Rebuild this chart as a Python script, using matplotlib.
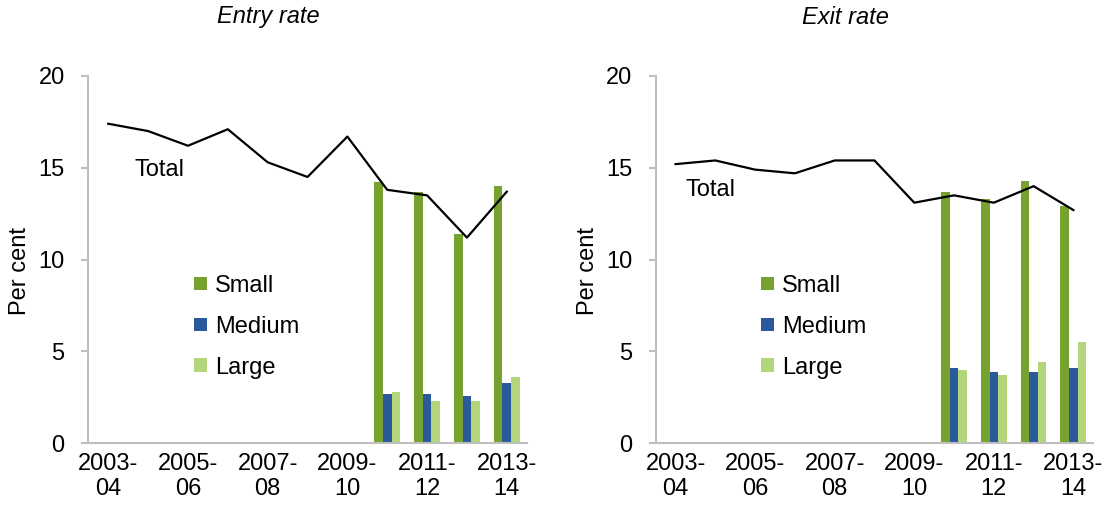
import numpy as np
import matplotlib
matplotlib.use("Agg")
import matplotlib.pyplot as plt

plt.rcParams["font.family"] = ["Liberation Sans", "DejaVu Sans"]

years = ["2003-\n04", "2004-\n05", "2005-\n06", "2006-\n07", "2007-\n08", "2008-\n09",
         "2009-\n10", "2010-\n11", "2011-\n12", "2012-\n13", "2013-\n14"]
bar_years = years[7:]

entry_total = [17.4, 17.0, 16.2, 17.1, 15.3, 14.5, 16.7, 13.8, 13.5, 11.2, 13.7]
entry_small = [14.2, 13.7, 11.4, 14.0]
entry_medium = [2.7, 2.7, 2.6, 3.3]
entry_large = [2.8, 2.3, 2.3, 3.6]

exit_total = [15.2, 15.4, 14.9, 14.7, 15.4, 15.4, 13.1, 13.5, 13.1, 14.0, 12.7]
exit_small = [13.7, 13.3, 14.3, 12.9]
exit_medium = [4.1, 3.9, 3.9, 4.1]
exit_large = [4.0, 3.7, 4.4, 5.5]

GREEN = "#78A22F"
BLUE = "#2A5A9B"
LIGHT = "#B3D67A"
GREY = "#BFBFBF"
FS = 17


def panel(ax, total, small, medium, large, total_pos):
    x = np.arange(len(years))
    xb = np.arange(len(years) - len(bar_years), len(years))
    w = 0.216
    ax.bar(xb - w, small, w, color=GREEN, label="Small", zorder=2)
    ax.bar(xb, medium, w, color=BLUE, label="Medium", zorder=2)
    ax.bar(xb + w, large, w, color=LIGHT, label="Large", zorder=2)
    ax.plot(x, total, color="black", lw=1.6, zorder=3)
    ax.text(total_pos[0], total_pos[1], "Total", fontsize=FS, va="center", ha="left")

    ax.set_xlim(-0.5, len(years) - 0.5)
    ax.set_ylim(0, 20)
    ax.set_yticks([0, 5, 10, 15, 20])
    ax.set_xticks(x[::2])
    ax.set_xticklabels(years[::2], linespacing=1.15)
    ax.tick_params(axis="y", length=5, width=1.5, color=GREY, pad=12, labelsize=FS)
    ax.tick_params(axis="x", length=0, pad=7, labelsize=FS)
    for s in ["top", "right"]:
        ax.spines[s].set_visible(False)
    for s in ["left", "bottom"]:
        ax.spines[s].set_color(GREY)
        ax.spines[s].set_linewidth(1.5)
    ax.set_ylabel("Per cent", fontsize=FS)
    ax.yaxis.set_label_coords(-0.13, 0.47)
    ax.legend(loc="upper left", bbox_to_anchor=(0.22, 0.484), frameon=False,
              fontsize=FS, handlelength=0.52, handleheight=0.52,
              handletextpad=0.35, labelspacing=0.8, borderaxespad=0)


fig = plt.figure(figsize=(11.07, 5.13), dpi=100)
ax1 = fig.add_axes([0.0798, 0.1359, 0.396, 0.716])
ax2 = fig.add_axes([0.5923, 0.1359, 0.3953, 0.716])

panel(ax1, entry_total, entry_small, entry_medium, entry_large, (0.67, 14.9))
panel(ax2, exit_total, exit_small, exit_medium, exit_large, (0.24, 13.8))

fig.text(268 / 1107, 1 - 17 / 513, "Entry rate", fontsize=FS, style="italic",
         ha="center", va="center")
fig.text(845 / 1107, 1 - 17 / 513, "Exit rate", fontsize=FS, style="italic",
         ha="center", va="center")

fig.savefig("out.png", dpi=100)
